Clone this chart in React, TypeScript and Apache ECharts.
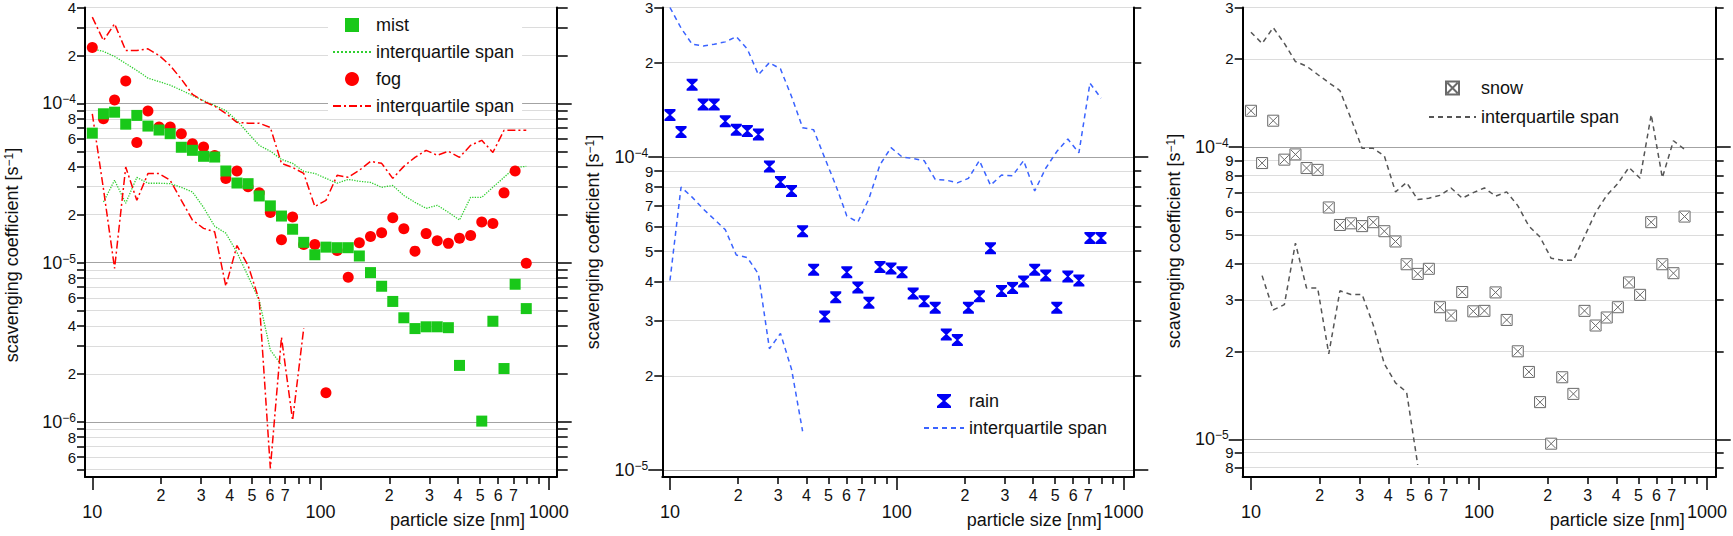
import React, { useEffect, useRef } from "react";
import * as echarts from "echarts";

// particle size bin centres [nm]
const SIZES = [10.0, 11.19, 12.52, 14.01, 15.67, 17.53, 19.61, 21.94, 24.55, 27.46, 30.72, 34.37, 38.46, 43.03, 48.14, 53.86, 60.26, 67.42, 75.43, 84.39, 94.41, 105.6, 118.2, 132.2, 147.9, 165.5, 185.2, 207.2, 231.7, 259.3, 290.1, 324.5, 363.1, 406.2, 454.5, 508.5, 568.9, 636.5, 712.1, 796.7];

// scavenging coefficients [s^-1]
const MIST = [6.5e-5, 8.6e-5, 8.8e-5, 7.4e-5, 8.4e-5, 7.2e-5, 6.8e-5, 6.45e-5, 5.3e-5, 5.07e-5, 4.65e-5, 4.6e-5, 3.76e-5, 3.16e-5, 3.13e-5, 2.62e-5, 2.27e-5, 1.96e-5, 1.62e-5, 1.34e-5, 1.12e-5, 1.25e-5, 1.24e-5, 1.24e-5, 1.1e-5, 8.65e-6, 7.1e-6, 5.7e-6, 4.5e-6, 3.85e-6, 3.95e-6, 3.95e-6, 3.9e-6, 2.26e-6, null, 1.01e-6, 4.28e-6, 2.16e-6, 7.31e-6, 5.14e-6];
const MIST_Q_HI = [2.2e-4, 2.12e-4, 1.97e-4, 1.78e-4, 1.61e-4, 1.44e-4, 1.37e-4, 1.3e-4, 1.21e-4, 1.12e-4, 1.04e-4, 9.7e-5, 9.0e-5, 7.8e-5, 6.5e-5, 5.45e-5, 5.0e-5, 4.45e-5, 4.2e-5, 3.74e-5, 3.63e-5, 3.38e-5, 3.15e-5, 3.33e-5, 3.24e-5, 3.19e-5, 2.97e-5, 3.05e-5, 2.64e-5, 2.39e-5, 2.19e-5, 2.29e-5, 2.07e-5, 1.85e-5, 2.57e-5, 2.57e-5, 2.97e-5, 3.43e-5, 3.96e-5, 4.02e-5];
const MIST_Q_LO = [null, 2.4e-5, 3.29e-5, 2.36e-5, 3.43e-5, 3.15e-5, 3.15e-5, 3.13e-5, 2.97e-5, 2.78e-5, 2.22e-5, 1.69e-5, 1.53e-5, 1.16e-5, 8.2e-6, 5.8e-6, 2.82e-6, 2.27e-6, null, null, null, null, null, null, null, null, null, null, null, null, null, null, null, null, null, null, null, null, null, null];

const FOG = [2.24e-4, 8.0e-5, 1.05e-4, 1.38e-4, 5.67e-5, 8.95e-5, 7.1e-5, 7.1e-5, 6.45e-5, 5.58e-5, 5.32e-5, 4.7e-5, 3.37e-5, 3.76e-5, 2.99e-5, 2.74e-5, 2.06e-5, 1.39e-5, 1.93e-5, 1.3e-5, 1.3e-5, 1.52e-6, 1.19e-5, 8.1e-6, 1.33e-5, 1.46e-5, 1.54e-5, 1.91e-5, 1.63e-5, 1.18e-5, 1.52e-5, 1.37e-5, 1.32e-5, 1.42e-5, 1.48e-5, 1.8e-5, 1.76e-5, 2.74e-5, 3.76e-5, 9.9e-6];
const FOG_Q_HI = [3.48e-4, 2.48e-4, 3.16e-4, 2.15e-4, 2.15e-4, 2.2e-4, 2.0e-4, 1.73e-4, 1.42e-4, 1.14e-4, 1.03e-4, 9.6e-5, 8.65e-5, 7.6e-5, 7.5e-5, 7.5e-5, 7.06e-5, 4.2e-5, 3.96e-5, 3.63e-5, 2.25e-5, 2.46e-5, 3.53e-5, 3.43e-5, 3.8e-5, 4.32e-5, 4.2e-5, 3.38e-5, 4.02e-5, 4.58e-5, 5.07e-5, 4.72e-5, 5.0e-5, 4.58e-5, 5.45e-5, 5.86e-5, 4.92e-5, 6.77e-5, 6.77e-5, 6.77e-5];
const FOG_Q_LO = [8.6e-5, 2.9e-5, 9.2e-6, 3.98e-5, 2.46e-5, 3.62e-5, 3.62e-5, 3.29e-5, 2.46e-5, 1.85e-5, 1.64e-5, 1.56e-5, 7.1e-6, 1.28e-5, 9.6e-6, 5.8e-6, 5.1e-7, 3.4e-6, 1.02e-6, 3.87e-6, null, null, null, null, null, null, null, null, null, null, null, null, null, null, null, null, null, null, null, null];

const RAIN = [1.36e-4, 1.2e-4, 1.7e-4, 1.47e-4, 1.47e-4, 1.3e-4, 1.22e-4, 1.21e-4, 1.18e-4, 9.32e-5, 8.32e-5, 7.78e-5, 5.79e-5, 4.36e-5, 3.09e-5, 3.56e-5, 4.28e-5, 3.83e-5, 3.42e-5, 4.45e-5, 4.4e-5, 4.28e-5, 3.66e-5, 3.46e-5, 3.3e-5, 2.71e-5, 2.6e-5, 3.3e-5, 3.59e-5, 5.11e-5, 3.73e-5, 3.81e-5, 4.0e-5, 4.36e-5, 4.18e-5, 3.3e-5, 4.15e-5, 4.03e-5, 5.51e-5, 5.51e-5];
const RAIN_Q_HI = [3.0e-4, 2.58e-4, 2.29e-4, 2.26e-4, 2.29e-4, 2.33e-4, 2.42e-4, 2.21e-4, 1.83e-4, 2.0e-4, 1.91e-4, 1.56e-4, 1.24e-4, 1.22e-4, 9.93e-5, 8.12e-5, 6.48e-5, 6.19e-5, 7.35e-5, 9.44e-5, 1.07e-4, 1.0e-4, 9.88e-5, 9.73e-5, 8.47e-5, 8.43e-5, 8.26e-5, 8.54e-5, 9.73e-5, 8.12e-5, 8.75e-5, 8.71e-5, 9.73e-5, 7.78e-5, 9.2e-5, 1.04e-4, 1.14e-4, 1.03e-4, 1.72e-4, 1.54e-4];
const RAIN_Q_LO = [4.03e-5, 8.01e-5, 7.44e-5, 6.82e-5, 6.32e-5, 5.86e-5, 4.86e-5, 4.77e-5, 4.23e-5, 2.44e-5, 2.73e-5, 2.1e-5, 1.33e-5, null, null, null, null, null, null, null, null, null, null, null, null, null, null, null, null, null, null, null, null, null, null, null, null, null, null, null];

const SNOW = [1.33e-4, 8.81e-5, 1.23e-4, 9.05e-5, 9.43e-5, 8.47e-5, 8.35e-5, 6.21e-5, 5.41e-5, 5.48e-5, 5.36e-5, 5.53e-5, 5.15e-5, 4.75e-5, 3.97e-5, 3.68e-5, 3.83e-5, 2.83e-5, 2.65e-5, 3.19e-5, 2.74e-5, 2.75e-5, 3.18e-5, 2.56e-5, 2.0e-5, 1.7e-5, 1.34e-5, 9.66e-6, 1.63e-5, 1.43e-5, 2.75e-5, 2.45e-5, 2.61e-5, 2.83e-5, 3.44e-5, 3.12e-5, 5.53e-5, 3.97e-5, 3.7e-5, 5.78e-5];
const SNOW_Q_HI = [2.47e-4, 2.26e-4, 2.56e-4, 2.26e-4, 1.96e-4, 1.89e-4, 1.77e-4, 1.66e-4, 1.56e-4, 1.25e-4, 9.89e-5, 9.89e-5, 9.31e-5, 7.02e-5, 7.56e-5, 6.61e-5, 6.68e-5, 6.83e-5, 7.24e-5, 6.68e-5, 6.98e-5, 7.24e-5, 6.79e-5, 7.02e-5, 6.3e-5, 5.36e-5, 4.92e-5, 4.16e-5, 4.1e-5, 4.1e-5, 4.94e-5, 5.97e-5, 6.83e-5, 7.5e-5, 8.51e-5, 7.82e-5, 1.29e-4, 7.85e-5, 1.05e-4, 9.82e-5];
const SNOW_Q_LO = [null, 3.63e-5, 2.77e-5, 2.89e-5, 4.69e-5, 3.29e-5, 3.29e-5, 1.96e-5, 3.22e-5, 3.13e-5, 3.13e-5, 2.46e-5, 1.81e-5, 1.56e-5, 1.45e-5, 8.18e-6, null, null, null, null, null, null, null, null, null, null, null, null, null, null, null, null, null, null, null, null, null, null, null, null];

// axis ticks
const X_MAJOR_TICKS = [10, 100, 1000];
const X_MINOR_TICKS = [20, 30, 40, 50, 60, 70, 80, 90, 200, 300, 400, 500, 600, 700, 800, 900];
const X_MINOR_LABELS = [20, 30, 40, 50, 60, 70, 200, 300, 400, 500, 600, 700];
const Y_MANTISSAS = [2, 3, 4, 5, 6, 7, 8, 9];

const X_TITLE = "particle size [nm]";
const Y_TITLE = "scavenging coefficient [s{s|\u22121}]";
const IQS = "interquartile span";

const FONT = '"Liberation Sans", Arial, Helvetica, sans-serif';
const TXT = "#111";
const lg = (v: number) => Math.log10(v);

const PANELS = [
  {
    left: 85, width: 471.7, xRange: [9.29, 1083], yRange: [4.5e-7, 4e-4],
    decades: [1e-7, 1e-6, 1e-5, 1e-4], labeledMant: [2, 4, 6, 8],
    leftMajorTick: 8, majorLabelMargin: 9, rightMajorTick: 15, rightMinorTick: 11,
    xTitleRight: 525, yTitleX: 12, yTitleY: 255,
  },
  {
    left: 662.3, width: 471, xRange: [9.25, 1106], yRange: [9.5e-6, 3e-4],
    decades: [1e-6, 1e-5, 1e-4], labeledMant: [2, 3, 4, 5, 6, 7, 8, 9],
    leftMajorTick: 14, majorLabelMargin: 14, rightMajorTick: 15, rightMinorTick: 8,
    xTitleRight: 1101.7, yTitleX: 593.3, yTitleY: 242,
  },
  {
    left: 1242.7, width: 473, xRange: [9.2, 1091], yRange: [7.43e-6, 3e-4],
    decades: [1e-6, 1e-5, 1e-4], labeledMant: [2, 3, 4, 5, 6, 7, 8, 9],
    leftMajorTick: 14, majorLabelMargin: 14, rightMajorTick: 15, rightMinorTick: 8,
    xTitleRight: 1684.7, yTitleX: 1173.7, yTitleY: 241,
  },
];

const GRID_TOP = 6;
const GRID_HEIGHT = 471;

function toPts(vals: (number | null)[]) {
  const out: number[][] = [];
  SIZES.forEach((d, i) => {
    const v = vals[i];
    if (v != null) out.push([lg(d), lg(v)]);
  });
  return out;
}

const mant = (v: number) => Math.round(Math.pow(10, v - Math.floor(v + 1e-9)));
const powLabel = (v: number) => `{b|10}{s|\u2212${Math.abs(Math.round(v))}}`;

const richPow = {
  b: { fontSize: 18, fontFamily: FONT, color: TXT, lineHeight: 20 },
  s: { fontSize: 12, fontFamily: FONT, color: TXT, verticalAlign: "top", lineHeight: 12 },
};

function buildOption() {
  const grid: any[] = [];
  const xAxis: any[] = [];
  const yAxis: any[] = [];
  const graphic: any[] = [];

  PANELS.forEach((p, g) => {
    grid.push({ left: p.left, top: GRID_TOP, width: p.width, height: GRID_HEIGHT, containLabel: false });
    const xmin = lg(p.xRange[0]);
    const xmax = lg(p.xRange[1]);
    const ymin = lg(p.yRange[0]);
    const ymax = lg(p.yRange[1]) + 1e-9;

    const majors: number[] = [];
    const minors: number[] = [];
    const minorLabeled: number[] = [];
    p.decades.forEach((d) => {
      if (d >= p.yRange[0] && d <= p.yRange[1] * 1.000001) majors.push(lg(d));
      Y_MANTISSAS.forEach((m) => {
        const v = Number((m * d).toPrecision(4));
        if (v >= p.yRange[0] && v <= p.yRange[1] * 1.000001) {
          minors.push(lg(v));
          if (p.labeledMant.indexOf(m) >= 0) minorLabeled.push(lg(v));
        }
      });
    });

    xAxis.push({
      type: "value", gridIndex: g, position: "bottom", min: xmin, max: xmax,
      axisLine: { show: true, onZero: false, lineStyle: { color: "#000", width: 2 } },
      axisTick: { show: true, customValues: X_MAJOR_TICKS.map(lg), length: 13, lineStyle: { color: "#000", width: 1.5 } },
      axisLabel: {
        show: true, customValues: X_MAJOR_TICKS.map(lg), margin: 26,
        formatter: (v: number) => String(Math.round(Math.pow(10, v))),
        fontSize: 18, fontFamily: FONT, color: TXT,
      },
      splitLine: { show: false },
    });
    xAxis.push({
      type: "value", gridIndex: g, position: "bottom", min: xmin, max: xmax,
      axisLine: { show: false, onZero: false },
      axisTick: { show: true, customValues: X_MINOR_TICKS.map(lg), length: 7, lineStyle: { color: "#000", width: 1.5 } },
      axisLabel: {
        show: true, customValues: X_MINOR_LABELS.map(lg), margin: 10,
        formatter: (v: number) => String(mant(v)),
        fontSize: 16, fontFamily: FONT, color: TXT,
      },
      splitLine: { show: false },
    });

    yAxis.push({
      type: "value", gridIndex: g, position: "left", min: ymin, max: ymax,
      axisLine: { show: true, onZero: false, lineStyle: { color: "#000", width: 2 } },
      axisTick: { show: true, customValues: majors, length: p.leftMajorTick, lineStyle: { color: "#000", width: 1.5 } },
      axisLabel: { show: true, customValues: majors, margin: p.majorLabelMargin, formatter: powLabel, rich: richPow },
      splitLine: { show: true, lineStyle: { color: "#a3a3a3", width: 1 } },
    });
    yAxis.push({
      type: "value", gridIndex: g, position: "left", min: ymin, max: ymax,
      axisLine: { show: false, onZero: false },
      axisTick: { show: true, customValues: minors, length: 8, lineStyle: { color: "#000", width: 1.5 } },
      axisLabel: {
        show: true, customValues: minorLabeled, margin: 9,
        formatter: (v: number) => String(mant(v)),
        fontSize: 15, fontFamily: FONT, color: TXT,
      },
      splitLine: { show: true, lineStyle: { color: "#dcdcdc", width: 1 } },
    });
    yAxis.push({
      type: "value", gridIndex: g, position: "right", min: ymin, max: ymax,
      axisLine: { show: true, onZero: false, lineStyle: { color: "#000", width: 2 } },
      axisTick: { show: true, customValues: majors, length: p.rightMajorTick, lineStyle: { color: "#000", width: 1.5 } },
      axisLabel: { show: false },
      splitLine: { show: false },
    });
    yAxis.push({
      type: "value", gridIndex: g, position: "right", min: ymin, max: ymax,
      axisLine: { show: false, onZero: false },
      axisTick: { show: true, customValues: minors, length: p.rightMinorTick, lineStyle: { color: "#000", width: 1.5 } },
      axisLabel: { show: false },
      splitLine: { show: false },
    });

    // axis titles
    graphic.push({
      type: "text", x: p.xTitleRight, y: 520, silent: true,
      style: { text: X_TITLE, fontSize: 18, fontFamily: FONT, fill: TXT, align: "right", verticalAlign: "middle" },
    });
    graphic.push({
      type: "text", x: p.yTitleX, y: p.yTitleY, rotation: Math.PI / 2, silent: true,
      style: {
        text: Y_TITLE, fontSize: 18, fontFamily: FONT, fill: TXT, align: "center", verticalAlign: "middle",
        rich: { s: { fontSize: 12, fontFamily: FONT, fill: TXT, color: TXT, verticalAlign: "top", lineHeight: 12 } },
      },
    });
  });

  const lineSeries = (name: string, g: number, vals: (number | null)[], color: string, type: any, width: number) => ({
    type: "line", name, xAxisIndex: 2 * g, yAxisIndex: 4 * g,
    data: toPts(vals), symbol: "none", showSymbol: false, silent: true, z: 2,
    lineStyle: { color, type, width }, itemStyle: { color, opacity: 0 },
  });
  const scatterSeries = (name: string, g: number, vals: (number | null)[], symbol: string, size: any, itemStyle: any, z: number) => ({
    type: "scatter", name, xAxisIndex: 2 * g, yAxisIndex: 4 * g,
    data: toPts(vals), symbol, symbolSize: size, itemStyle: { opacity: 1, ...itemStyle }, silent: true, z,
  });

  const GREEN = "#19c819";
  const RED = "#ff0000";
  const BLUE = "#0000f5";
  const LBLUE = "#3a63ff";
  const GRAY = "#6a6a6a";
  const SQUARE_SYM = "path://M0,0L10,0L10,10L0,10Z";
  const RAIN_SYM = "path://M0,0L12,0L12,1.8L7,6L12,10.2L12,12L0,12L0,10.2L5,6L0,1.8Z";
  const SNOW_SYM = "path://M0,0L10,0L10,10L0,10Z M1,1L9,9 M9,1L1,9";

  const series = [
    lineSeries(IQS + " (mist)", 0, MIST_Q_HI, "#2fcf2f", "dotted", 1.3),
    lineSeries("mist lower quartile", 0, MIST_Q_LO, "#2fcf2f", "dotted", 1.3),
    lineSeries(IQS + " (fog)", 0, FOG_Q_HI, RED, [8, 3, 2, 3], 1.5),
    lineSeries("fog lower quartile", 0, FOG_Q_LO, RED, [8, 3, 2, 3], 1.5),
    scatterSeries("fog", 0, FOG, "circle", 11, { color: RED }, 3),
    scatterSeries("mist", 0, MIST, SQUARE_SYM, 11, { color: GREEN }, 4),

    lineSeries(IQS + " (rain)", 1, RAIN_Q_HI, LBLUE, [5, 4], 1.5),
    lineSeries("rain lower quartile", 1, RAIN_Q_LO, LBLUE, [5, 4], 1.5),
    scatterSeries("rain", 1, RAIN, RAIN_SYM, [11, 12], { color: BLUE }, 4),

    lineSeries(IQS + " (snow)", 2, SNOW_Q_HI, "#555", [5, 4], 1.5),
    lineSeries("snow lower quartile", 2, SNOW_Q_LO, "#555", [5, 4], 1.5),
    scatterSeries("snow", 2, SNOW, SNOW_SYM, 11, { color: "#fff", borderColor: GRAY, borderWidth: 1 }, 4),
  ];

  const legendFmt = (name: string) => (name.indexOf(IQS) === 0 ? IQS : name);
  const legendText = { fontSize: 18, fontFamily: FONT, color: TXT };
  const lineItem = (name: string) => ({ name, itemStyle: { opacity: 0 } });
  const legend = [
    {
      orient: "vertical", left: 328, top: 12, padding: [4, 8, 4, 4], backgroundColor: "#fff",
      itemWidth: 38, itemHeight: 14, itemGap: 9, selectedMode: false, formatter: legendFmt, textStyle: legendText,
      data: ["mist", lineItem(IQS + " (mist)"), "fog", lineItem(IQS + " (fog)")],
    },
    {
      orient: "vertical", left: 923, top: 392, padding: 0,
      itemWidth: 40, itemHeight: 14, itemGap: 9, selectedMode: false, formatter: legendFmt, textStyle: legendText,
      data: ["rain", lineItem(IQS + " (rain)")],
    },
    {
      orient: "vertical", left: 1428, top: 79, padding: 0,
      itemWidth: 47, itemHeight: 13, itemGap: 11, selectedMode: false, formatter: legendFmt, textStyle: legendText,
      data: ["snow", lineItem(IQS + " (snow)")],
    },
  ];

  return {
    animation: false,
    backgroundColor: "#fff",
    textStyle: { fontFamily: FONT },
    grid, xAxis, yAxis, legend, series, graphic,
  };
}

export default function App() {
  const ref = useRef<HTMLDivElement>(null);
  useEffect(() => {
    if (!ref.current) return;
    const chart = echarts.init(ref.current, undefined, { renderer: "svg" });
    chart.setOption(buildOption() as any);
    return () => chart.dispose();
  }, []);
  return (
    <div
      ref={ref}
      style={{ position: "absolute", left: 0, top: 0, width: 1733, height: 536, background: "#fff" }}
    />
  );
}
